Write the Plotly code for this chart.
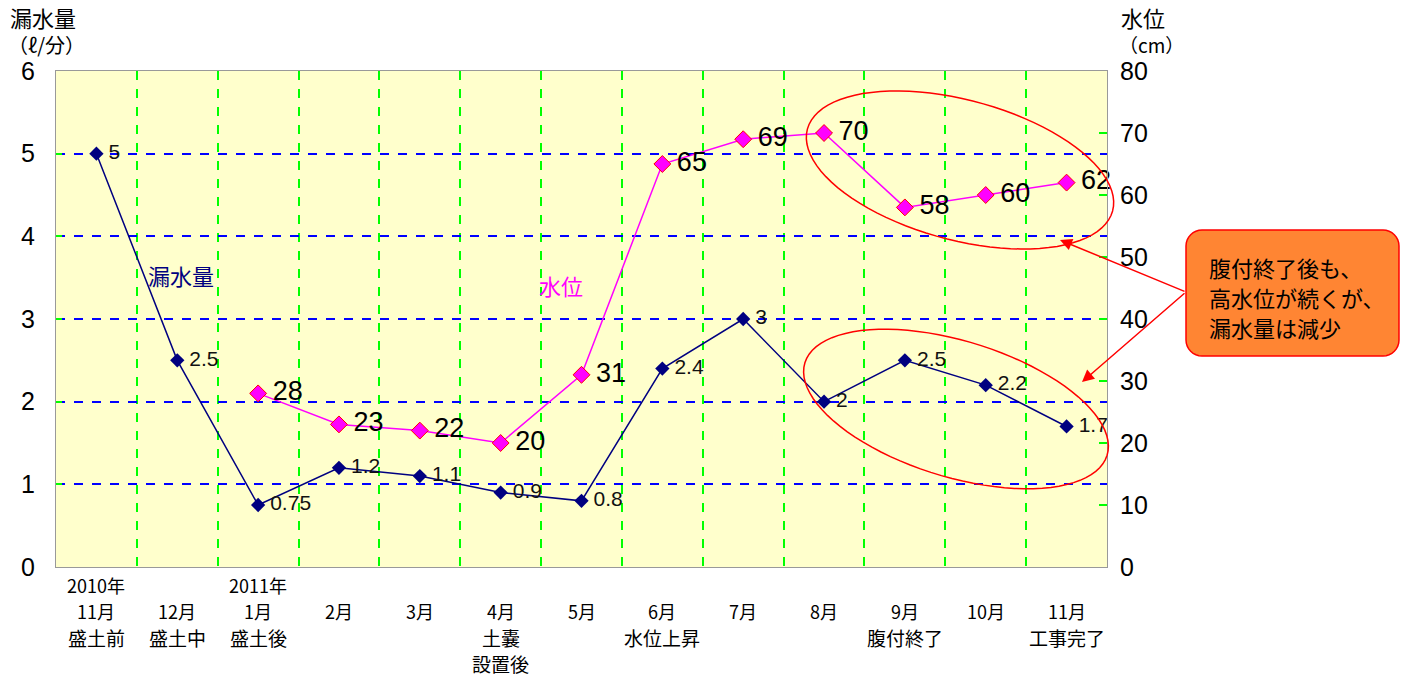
import math
import plotly.graph_objects as go

# ---- data ----
idx = list(range(13))
years = ["2010年", "", "2011年", "", "", "", "", "", "", "", "", "", ""]
months = ["11月", "12月", "1月", "2月", "3月", "4月", "5月", "6月", "7月", "8月", "9月", "10月", "11月"]
notes = ["盛土前", "盛土中", "盛土後", "", "", "土嚢\n設置後", "", "水位上昇", "", "", "腹付終了", "", "工事完了"]
leak = [5, 2.5, 0.75, 1.2, 1.1, 0.9, 0.8, 2.4, 3, 2, 2.5, 2.2, 1.7]
level = [None, None, 28, 23, 22, 20, 31, 65, 69, 70, 58, 60, 62]
leak_ticks = [0, 1, 2, 3, 4, 5, 6]
level_ticks = [0, 10, 20, 30, 40, 50, 60, 70, 80]
callout_lines = ["腹付終了後も、", "高水位が続くが、", "漏水量は減少"]

W, H = 1411, 677
L, R, T, B = 56, 1107, 71, 567
CJK = "Noto Sans CJK JP"


def px(x, y):
    return (x - L) / (R - L), (B - y) / (B - T)


def ellipse_path(cx, cy, a, b, ang_deg, n=90):
    th = math.radians(ang_deg)
    pts = []
    for i in range(n):
        t = 2 * math.pi * i / n
        x = cx + a * math.cos(t) * math.cos(th) - b * math.sin(t) * math.sin(th)
        y = cy + a * math.cos(t) * math.sin(th) + b * math.sin(t) * math.cos(th)
        pts.append(px(x, y))
    return "M " + " L ".join(f"{p[0]:.5f},{p[1]:.5f}" for p in pts) + " Z"


def rounded_rect_path(x0, y0, x1, y1, r, n=8):
    pts = []
    corners = [(x1 - r, y0 + r, -90), (x1 - r, y1 - r, 0), (x0 + r, y1 - r, 90), (x0 + r, y0 + r, 180)]
    for cx, cy, start in corners:
        for i in range(n + 1):
            t = math.radians(start + 90 * i / n)
            pts.append(px(cx + r * math.cos(t), cy + r * math.sin(t)))
    return "M " + " L ".join(f"{p[0]:.5f},{p[1]:.5f}" for p in pts) + " Z"


fig = go.Figure()

fig.add_trace(go.Scatter(
    x=idx, y=leak, mode="lines+markers+text",
    line=dict(color="#000080", width=1.5),
    marker=dict(symbol="diamond", size=11, color="#000080"),
    text=["\u2009" + str(v) for v in leak], textposition="middle right",
    textfont=dict(family="Liberation Sans", size=21, color="#111111"),
    cliponaxis=False, showlegend=False, yaxis="y",
))
fig.add_trace(go.Scatter(
    x=idx, y=level, mode="lines+markers+text",
    line=dict(color="#FF00FF", width=1.5),
    marker=dict(symbol="diamond", size=13, color="#FF00FF", line=dict(color="#FF0000", width=1)),
    text=["" if v is None else "\u2009" + str(v) for v in level], textposition="middle right",
    textfont=dict(family="Liberation Sans", size=27, color="#000000"),
    cliponaxis=False, showlegend=False, yaxis="y2",
))

annotations = []
# x-axis category labels
rows_y = [585, 611, 637, 663]
num_font = dict(size=18, family=CJK, color="#000")
note_font = dict(size=19, family=CJK, color="#000")
for i in idx:
    if years[i]:
        annotations.append(dict(x=i, y=px(0, rows_y[0])[1], xref="x", yref="paper",
                                text=years[i], showarrow=False, xanchor="center", yanchor="middle",
                                font=num_font))
    annotations.append(dict(x=i, y=px(0, rows_y[1])[1], xref="x", yref="paper",
                            text=months[i], showarrow=False, xanchor="center", yanchor="middle",
                            font=num_font))
    if notes[i]:
        for k, ln in enumerate(notes[i].split("\n")):
            annotations.append(dict(x=i, y=px(0, rows_y[2 + k])[1], xref="x", yref="paper",
                                    text=ln, showarrow=False, xanchor="center", yanchor="middle",
                                    font=note_font))

# axis titles
for txt, x, y, size in [("漏水量", 8, 17, 22), ("（ℓ/分）", 6, 45, 20),
                        ("水位", 1119, 17, 22), ("（cm）", 1117, 45, 19)]:
    ax_, ay_ = px(x, y)
    annotations.append(dict(x=ax_, y=ay_, xref="paper", yref="paper", text=txt, showarrow=False,
                            xanchor="left", yanchor="middle",
                            font=dict(size=size, family=CJK, color="#000")))

# series labels
for txt, x, y, col in [("漏水量", 181, 275, "#000080"), ("水位", 561, 285, "#FF00FF")]:
    ax_, ay_ = px(x, y)
    annotations.append(dict(x=ax_, y=ay_, xref="paper", yref="paper", text=txt, showarrow=False,
                            xanchor="center", yanchor="middle",
                            font=dict(size=22, family=CJK, color=col)))

# callout text
for k, (ln, ly) in enumerate(zip(callout_lines, [267, 297, 327])):
    cx_, cy_ = px(1207, ly)
    annotations.append(dict(x=cx_, y=cy_, xref="paper", yref="paper", text=ln,
                            showarrow=False, xanchor="left", yanchor="middle", align="left",
                            font=dict(size=22, family=CJK, color="#000")))

# arrows
for hx, hy, tx, ty in [(1060, 240, 1186, 292), (1082, 382, 1186, 292)]:
    a, b = px(hx, hy)
    annotations.append(dict(x=a, y=b, xref="paper", yref="paper", text="", showarrow=True,
                            ax=tx - hx, ay=ty - hy, arrowhead=2, arrowsize=1.6, arrowwidth=1.5,
                            arrowcolor="#FF0000", standoff=0, startstandoff=0))

shapes = [
    dict(type="path", xref="paper", yref="paper", path=ellipse_path(960, 170, 158, 70, 15),
         line=dict(color="#FF0000", width=1.5), fillcolor="rgba(0,0,0,0)"),
    dict(type="path", xref="paper", yref="paper", path=ellipse_path(956, 409, 158, 68, 17),
         line=dict(color="#FF0000", width=1.5), fillcolor="rgba(0,0,0,0)"),
    dict(type="path", xref="paper", yref="paper", path=rounded_rect_path(1186, 230, 1399, 356, 16),
         line=dict(color="#FF0000", width=1.5), fillcolor="#FF8533"),
]

fig.update_layout(
    width=W, height=H,
    margin=dict(l=L, r=W - R, t=T, b=H - B),
    paper_bgcolor="white", plot_bgcolor="#FFFFCC",
    font=dict(family="Liberation Sans, Noto Sans CJK JP", color="#000"),
    showlegend=False,
    xaxis=dict(range=[-0.5, 12.5], tickvals=[i - 0.5 for i in range(14)], showticklabels=False,
               showgrid=True, gridcolor="#00FF00", griddash="dash", gridwidth=1.5,
               ticks="", showline=True, linecolor="#999999", linewidth=1, mirror=True,
               zeroline=False, fixedrange=True),
    yaxis=dict(range=[0, 6], tickvals=leak_ticks, showgrid=True, gridcolor="#0000FF",
               griddash="dash", gridwidth=1.5, ticks="inside", ticklen=6, tickwidth=2,
               tickcolor="#00FF00", showline=True, linecolor="#999999", linewidth=1, mirror=True,
               zeroline=False, tickfont=dict(size=25, family="Liberation Sans", color="#000"),
               ticklabelstandoff=15),
    yaxis2=dict(range=[0, 80], tickvals=level_ticks, overlaying="y", side="right",
                showgrid=False, ticks="inside", ticklen=8, tickwidth=2, tickcolor="#00FF00",
                zeroline=False, tickfont=dict(size=25, family="Liberation Sans", color="#000"),
                ticklabelstandoff=12),
    annotations=annotations,
    shapes=shapes,
)

fig.write_html("out.html")
